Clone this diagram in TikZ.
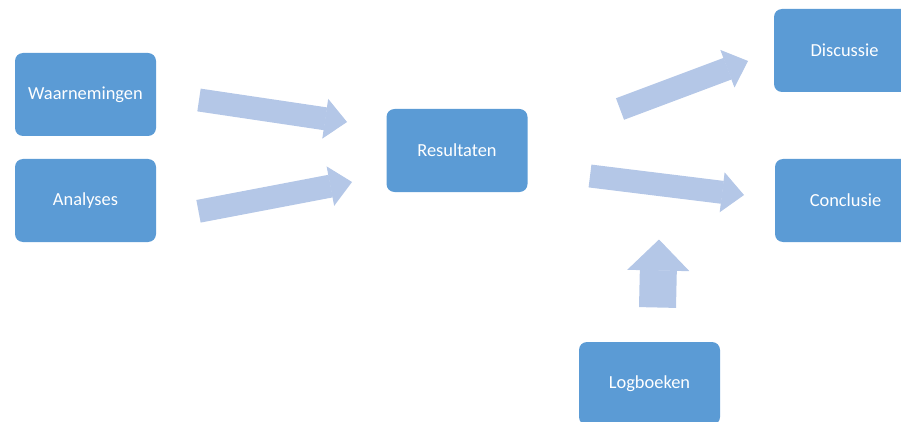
\documentclass[tikz,border=0pt]{standalone}
\usepackage{fontspec}
\setmainfont{Carlito}
\usepackage{tikz}
\usepackage{xcolor}
\usetikzlibrary{arrows.meta}

\definecolor{boxblue}{HTML}{5B9BD5}
\definecolor{arrowblue}{HTML}{B4C7E7}

\begin{document}
\begin{tikzpicture}[x=1pt,y=-1pt,
	box/.style={rectangle, rounded corners=8pt, fill=boxblue, text=white, minimum width=141pt, minimum height=83pt, inner sep=0pt, font={\fontsize{18.4}{22}\selectfont}},
	flow/.style={draw=arrowblue, line width=23pt, -{Triangle[length=22pt, width=40pt, line width=1pt]}},
	upflow/.style={draw=arrowblue, line width=37pt, -{Triangle[length=31pt, width=62pt, line width=1pt]}}]
	\useasboundingbox (0,0) rectangle (901,422);
	\clip (0,0) rectangle (901,422);
	\node[box] (waarn) at (85.5,94.5) {Waarnemingen};
	\node[box] (analyses) at (85.5,200.5) {Analyses};
	\node[box] (result) at (457,150.5) {Resultaten};
	\node[box] (disc) at (844.5,50.5) {Discussie};
	\node[box] (concl) at (845.5,200.5) {Conclusie};
	\node[box] (logb) at (649.5,383.5) {Logboeken};
	% loose block arrows
	\coordinate (w1) at (199,100);
	\coordinate (w2) at (347,122);
	\coordinate (a1) at (198.5,211.3);
	\coordinate (a2) at (352,182);
	\coordinate (d1) at (620,109);
	\coordinate (d2) at (748,61);
	\coordinate (c1) at (590,176);
	\coordinate (c2) at (744,195);
	\coordinate (l1) at (657.5,307.5);
	\coordinate (l2) at (659,239.5);
	\draw[flow] (w1) -- (w2);
	\draw[flow] (a1) -- (a2);
	\draw[flow] (d1) -- (d2);
	\draw[flow] (c1) -- (c2);
	\draw[upflow] (l1) -- (l2);
\end{tikzpicture}
\end{document}
